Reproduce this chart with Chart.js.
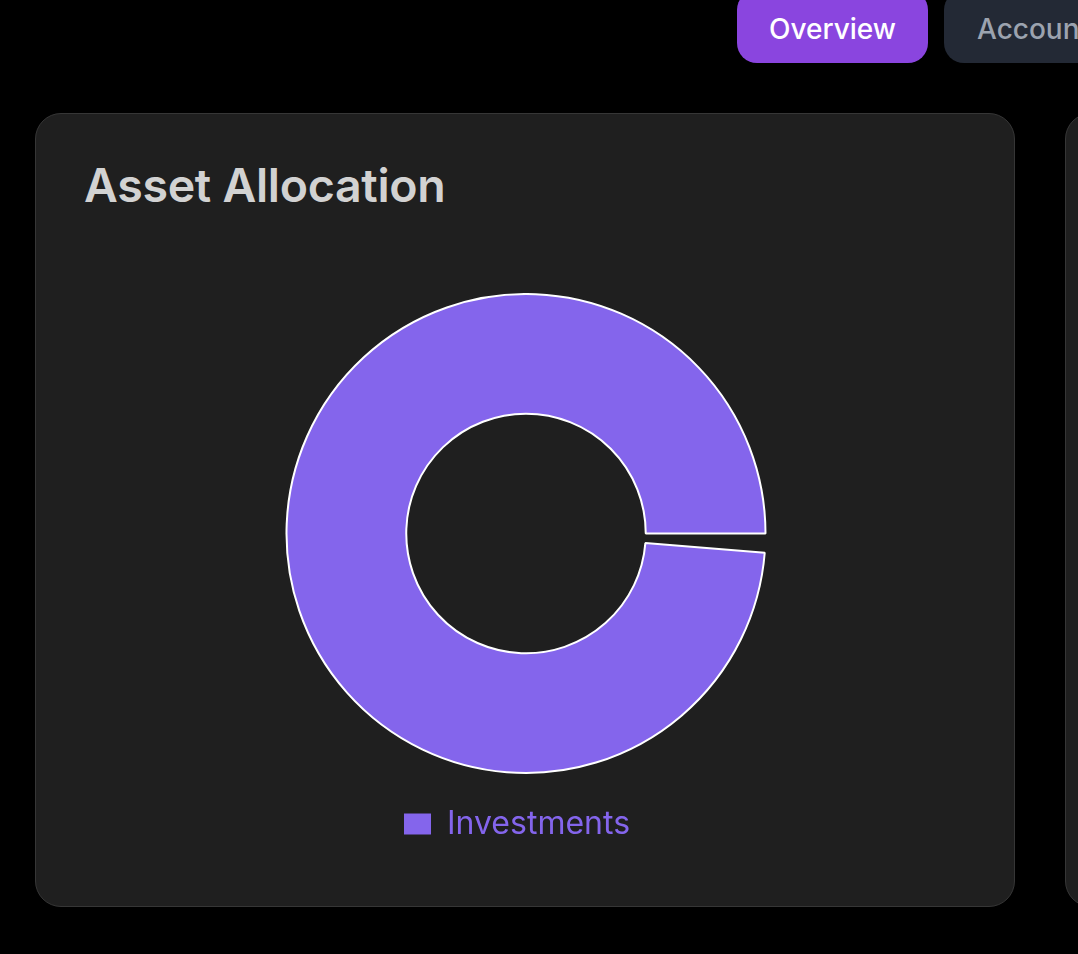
<!DOCTYPE html>
<html>
<head>
<meta charset="utf-8">
<script src="https://cdn.jsdelivr.net/npm/chart.js@4.4.1/dist/chart.umd.min.js"></script>
<style>
  html, body { margin: 0; padding: 0; background: #000; width: 1078px; height: 954px; overflow: hidden; font-family: Inter, "Noto Sans", sans-serif; }
  .btn { position: absolute; top: -10px; height: 73px; border-radius: 20px; box-sizing: border-box; font-size: 28px; font-weight: 500; display: flex; align-items: center; justify-content: center; padding-top: 4px; }
  .b1 { left: 737px; width: 191px; background: #8a45df; color: #fff; }
  .b2 { left: 944px; width: 200px; background: #232935; color: #9ca3af; justify-content: flex-start; padding-left: 33px; }
  .card { position: absolute; left: 35px; top: 113px; width: 980px; height: 794px; box-sizing: border-box; background: #1f1f1f; border: 1.5px solid #363636; border-radius: 26px; }
  .card2 { left: 1065px; }
  .title { position: absolute; left: 48px; top: 43px; margin: 0; font-size: 46.5px; font-weight: 600; color: #d2d2d2; letter-spacing: -0.3px; }
  .wrap { position: absolute; left: 50px; top: 179px; width: 880px; height: 557px; }
</style>
</head>
<body>
<div class="btn b1">Overview</div>
<div class="btn b2">Accounts</div>
<div class="card">
  <h2 class="title">Asset Allocation</h2>
  <div class="wrap"><canvas id="c"></canvas></div>
</div>
<div class="card card2"></div>
<script>
const categories = ["Investments"];
const values = [100];
const sliceColors = ["#8465ec"];
const arcRotation = 94.6;
const arcCircumference = 355.4;

const legendShift = {
  id: "legendShift",
  afterLayout(chart) {
    if (chart.legend) { chart.legend.left -= 9; chart.legend.right -= 9; }
  }
};

new Chart(document.getElementById("c"), {
  type: "doughnut",
  data: {
    labels: categories,
    datasets: [{
      data: values,
      backgroundColor: sliceColors,
      borderColor: "#ffffff",
      borderWidth: 2,
      hoverOffset: 0,
      offset: 0
    }]
  },
  options: {
    responsive: true,
    maintainAspectRatio: false,
    animation: false,
    cutout: "50%",
    rotation: arcRotation,
    circumference: arcCircumference,
    layout: { padding: 0 },
    plugins: {
      tooltip: { enabled: false },
      legend: {
        position: "bottom",
        labels: {
          color: "#8465ec",
          boxWidth: 27,
          boxHeight: 21,
          padding: 34,
          font: { family: "Inter", size: 32 },
          generateLabels: (chart) => {
            const items = Chart.overrides.doughnut.plugins.legend.labels.generateLabels(chart);
            items.forEach(it => { it.strokeStyle = it.fillStyle; it.lineWidth = 0; });
            return items;
          }
        }
      }
    }
  },
  plugins: [legendShift]
});
</script>
</body>
</html>
